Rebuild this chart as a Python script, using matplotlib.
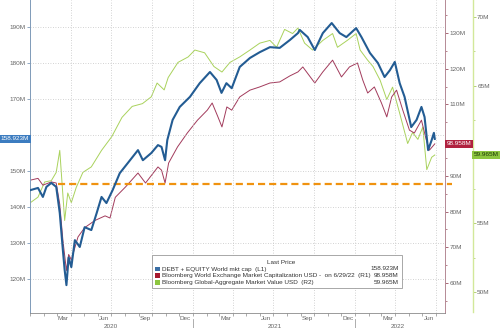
import numpy as np
import pandas as pd
import matplotlib
matplotlib.use('Agg')
import matplotlib.pyplot as plt
import matplotlib.dates as mdates
from matplotlib.patches import Rectangle
from matplotlib.ticker import MultipleLocator, FuncFormatter
import matplotlib.transforms as mtransforms

plt.rcParams['font.family'] = ['Liberation Sans', 'DejaVu Sans']

# DEBT + EQUITY World mkt cap (L1), millions
l1_dates = ['2020-01-01', '2020-01-18', '2020-01-29', '2020-02-06', '2020-02-17', '2020-02-28',
            '2020-03-03', '2020-03-07', '2020-03-14', '2020-03-18', '2020-03-22', '2020-03-27',
            '2020-04-02', '2020-04-10', '2020-04-21', '2020-05-02', '2020-05-17', '2020-05-29',
            '2020-06-09', '2020-06-20', '2020-07-04', '2020-07-20', '2020-08-07', '2020-08-30',
            '2020-09-10', '2020-09-29', '2020-10-14', '2020-10-22', '2020-10-30', '2020-11-04',
            '2020-11-16', '2020-12-02', '2020-12-25', '2021-01-16', '2021-02-08', '2021-02-23',
            '2021-03-06', '2021-03-17', '2021-03-29', '2021-04-16', '2021-05-09', '2021-05-31',
            '2021-06-23', '2021-07-15', '2021-08-07', '2021-08-25', '2021-08-29', '2021-09-16',
            '2021-10-02', '2021-10-20', '2021-11-09', '2021-11-27', '2021-12-12', '2022-01-03',
            '2022-01-15', '2022-02-03', '2022-02-21', '2022-03-08', '2022-03-20', '2022-03-31',
            '2022-04-11', '2022-04-22', '2022-05-07', '2022-05-19', '2022-05-30', '2022-06-06',
            '2022-06-14', '2022-06-22', '2022-06-27', '2022-06-29']
l1_vals = [144.7, 145.3, 142.8, 145.6, 146.7, 145.6,
           142.0, 138.3, 128.0, 122.5, 118.3, 126.0,
           123.3, 130.8, 128.9, 134.4, 133.6, 138.3,
           142.8, 141.1, 144.7, 149.4, 152.2, 155.8,
           153.0, 155.0, 157.2, 156.7, 153.0, 158.6,
           164.2, 167.8, 170.6, 174.4, 177.5, 175.3,
           171.7, 174.4, 173.0, 178.9, 181.4, 183.0,
           184.4, 184.2, 186.4, 188.3, 189.2, 187.2,
           183.6, 188.3, 191.1, 188.3, 187.2, 189.7,
           187.2, 182.8, 180.0, 176.1, 178.0, 180.3,
           174.4, 170.6, 162.2, 164.2, 167.8, 165.0,
           155.8, 158.6, 160.6, 158.923]

# Bloomberg World Exchange Market Capitalization USD (R1)
r1_dates = ['2020-01-01', '2020-01-18', '2020-01-29', '2020-02-17', '2020-02-28', '2020-03-07',
            '2020-03-14', '2020-03-22', '2020-03-27', '2020-04-02', '2020-04-17', '2020-05-02',
            '2020-05-25', '2020-06-17', '2020-06-28', '2020-07-10', '2020-08-02', '2020-08-30',
            '2020-09-16', '2020-10-14', '2020-10-22', '2020-10-30', '2020-11-07', '2020-11-27',
            '2020-12-19', '2021-01-11', '2021-02-02', '2021-02-13', '2021-02-26', '2021-03-07',
            '2021-03-18', '2021-03-29', '2021-04-16', '2021-05-09', '2021-05-31', '2021-06-23',
            '2021-07-15', '2021-08-07', '2021-08-25', '2021-09-05', '2021-10-02', '2021-10-20',
            '2021-11-11', '2021-12-01', '2021-12-19', '2022-01-06', '2022-01-18', '2022-01-29',
            '2022-02-13', '2022-03-01', '2022-03-13', '2022-03-24', '2022-04-04', '2022-04-18',
            '2022-05-03', '2022-05-14', '2022-05-30', '2022-06-10', '2022-06-17', '2022-06-29']
r1_vals = [88.8, 89.3, 87.4, 88.3, 88.0, 82.0,
           72.0, 63.5, 68.0, 66.5, 72.9, 75.5,
           77.5, 78.8, 78.2, 84.0, 86.9, 90.8,
           88.0, 92.5, 91.6, 88.0, 93.6, 98.1,
           102.0, 105.6, 108.4, 110.4, 106.5, 103.7,
           109.3, 108.4, 112.1, 114.0, 114.9, 116.0,
           116.3, 118.0, 119.1, 120.5, 116.0, 119.1,
           122.4, 117.7, 120.5, 121.6, 116.8, 113.2,
           114.9, 110.4, 106.5, 112.1, 114.0, 108.4,
           102.8, 102.0, 105.6, 100.0, 97.2, 98.958]

# Bloomberg Global-Aggregate Market Value USD (R2)
r2_dates = ['2020-01-01', '2020-01-18', '2020-02-02', '2020-02-17', '2020-02-28', '2020-03-07',
            '2020-03-10', '2020-03-18', '2020-03-25', '2020-04-02', '2020-04-13', '2020-04-28',
            '2020-05-17', '2020-06-09', '2020-07-02', '2020-07-25', '2020-08-17', '2020-09-09',
            '2020-09-29', '2020-10-12', '2020-10-28', '2020-11-06', '2020-11-28', '2020-12-21',
            '2021-01-05', '2021-01-27', '2021-02-17', '2021-03-07', '2021-03-25', '2021-04-16',
            '2021-05-09', '2021-05-31', '2021-06-23', '2021-07-08', '2021-07-26', '2021-08-13',
            '2021-08-25', '2021-09-09', '2021-09-27', '2021-10-20', '2021-11-11', '2021-11-22',
            '2021-12-14', '2022-01-03', '2022-01-12', '2022-01-28', '2022-02-10', '2022-02-26',
            '2022-03-13', '2022-03-26', '2022-04-11', '2022-04-29', '2022-05-10', '2022-05-22',
            '2022-06-02', '2022-06-11', '2022-06-22', '2022-06-29']
r2_vals = [56.5, 56.9, 58.0, 58.1, 58.7, 60.3,
           58.9, 55.2, 57.2, 56.5, 57.6, 58.7,
           59.1, 60.3, 61.3, 62.7, 63.5, 63.7,
           64.2, 65.2, 64.7, 65.6, 66.7, 67.1,
           67.6, 67.4, 66.4, 66.0, 66.7, 67.1,
           67.6, 68.1, 68.3, 67.8, 69.1, 68.8,
           69.2, 68.1, 67.6, 68.3, 68.8, 67.8,
           68.3, 68.8, 67.6, 66.9, 66.4, 65.4,
           64.0, 64.9, 63.0, 60.8, 61.6, 61.1,
           62.0, 58.9, 59.8, 59.965]

ref_level = 146.4
ref_span = ['2020-03-03', '2022-08-07']

legend_names = ['DEBT + EQUITY World mkt cap  (L1)',
                'Bloomberg World Exchange Market Capitalization USD -  on 6/29/22  (R1)',
                'Bloomberg Global-Aggregate Market Value USD  (R2)']
legend_vals = ['158.923M', '98.958M', '59.965M']

c_blue = '#235c93'
c_red = '#a23b5c'
c_green = '#a9d25c'
c_orange = '#f0920f'
tick_c = '#666666'
fs = 4.6


def make_fmt(hidden):
    # the tick under each last-value tag is left blank
    return FuncFormatter(lambda v, p: '' if round(v) == hidden else '%dM' % round(v))


fig = plt.figure(figsize=(5, 3.28), dpi=100)
ax = fig.add_axes([0.06, 0.0457, 0.83, 0.9543])
ax2 = ax.twinx()
ax3 = ax.twinx()
ax.set_zorder(3)
ax.patch.set_visible(False)
ax2.set_zorder(2)
ax3.set_zorder(1)

d1 = pd.to_datetime(l1_dates)
d2 = pd.to_datetime(r1_dates)
d3 = pd.to_datetime(r2_dates)

ax3.plot(d3, r2_vals, color=c_green, lw=0.7)
ax2.plot(d2, r1_vals, color=c_red, lw=0.7)
ax.plot(d1, l1_vals, color=c_blue, lw=1.5, zorder=5)
ax.plot(pd.to_datetime(ref_span), [ref_level, ref_level], color=c_orange, lw=1.6,
        dashes=(3.2, 1.8), clip_on=False, zorder=4)

x0 = pd.Timestamp('2019-12-31')
x1 = pd.Timestamp('2022-07-22')
for a in (ax, ax2, ax3):
    a.set_xlim(x0, x1)
ax.set_ylim(110.56, 197.5)
ax2.set_ylim(51.6, 139.24)
ax3.set_ylim(48.47, 71.24)

# grid
for v in range(120, 200, 10):
    ax.axhline(v, color='#c4c4c4', lw=0.6, ls=(0, (1, 2)), zorder=0)
for q in pd.date_range('2020-04-01', '2022-07-01', freq='QS'):
    ax.axvline(q, color='#c4c4c4', lw=0.6, ls=(0, (1, 2)), zorder=0)

# left axis
ax.yaxis.set_major_locator(MultipleLocator(10))
ax.yaxis.set_major_formatter(make_fmt(160))
ax.tick_params(axis='y', which='major', length=2, width=0.6, color='#7f9ab8',
               labelsize=fs, labelcolor=tick_c, pad=1)
ax.spines['left'].set_color('#7f9ab8')
ax.spines['left'].set_linewidth(0.7)
ax.spines['left'].set_linestyle((0, (2, 1)))
ax.spines['top'].set_visible(False)
ax.spines['right'].set_visible(False)
ax.spines['bottom'].set_color('#8a8a8a')
ax.spines['bottom'].set_linewidth(0.6)

# R1 axis
ax2.yaxis.set_major_locator(MultipleLocator(10))
ax2.yaxis.set_minor_locator(MultipleLocator(5))
ax2.yaxis.set_major_formatter(make_fmt(100))
ax2.tick_params(axis='y', which='major', length=2.5, width=0.6, color='#9a5060',
                labelsize=fs, labelcolor=tick_c, pad=1)
ax2.tick_params(axis='y', which='minor', length=1.2, width=0.5, color='#9a5060')
ax2.spines['right'].set_color('#b58a95')
ax2.spines['right'].set_linewidth(0.7)
for s in ('left', 'top', 'bottom'):
    ax2.spines[s].set_visible(False)

# R2 axis
ax3.spines['right'].set_position(('axes', 1.0675))
ax3.spines['right'].set_color('#d2e89a')
ax3.spines['right'].set_linewidth(1.0)
ax3.spines['right'].set_bounds(48.55, 71.24)
for s in ('left', 'top', 'bottom'):
    ax3.spines[s].set_visible(False)
ax3.yaxis.set_major_locator(MultipleLocator(5))
ax3.yaxis.set_minor_locator(MultipleLocator(2.5))
ax3.yaxis.set_major_formatter(make_fmt(60))
ax3.tick_params(axis='y', which='major', length=2, width=0.6, color='#a8c860',
                labelsize=fs, labelcolor=tick_c, pad=1)
ax3.tick_params(axis='y', which='minor', length=1.2, width=0.5, color='#a8c860')

# x axis: months
ax.xaxis.set_minor_locator(mdates.MonthLocator())
mid = pd.to_datetime(['2020-03-15', '2020-06-15', '2020-09-15', '2020-12-15',
                      '2021-03-15', '2021-06-15', '2021-09-15', '2021-12-15',
                      '2022-03-15', '2022-06-15'])
ax.set_xticks(mid)
ax.set_xticklabels(['Mar', 'Jun', 'Sep', 'Dec'] * 2 + ['Mar', 'Jun'])
ax.tick_params(axis='x', which='major', length=0, labelsize=fs, labelcolor=tick_c, pad=2)
ax.tick_params(axis='x', which='minor', length=2, width=0.5, color='#8a8a8a')
ax2.tick_params(axis='x', which='both', length=0, labelbottom=False)
ax3.tick_params(axis='x', which='both', length=0, labelbottom=False)

trans = mtransforms.blended_transform_factory(ax.transData, ax.transAxes)
for lab, pos in [('2020', '2020-06-30'), ('2021', '2021-07-04'), ('2022', '2022-04-07')]:
    ax.text(pd.Timestamp(pos), -0.036, lab, transform=trans, ha='center', va='top',
            fontsize=fs, color=tick_c)
for sep in ['2021-01-01', '2022-01-01']:
    ax.plot([pd.Timestamp(sep)] * 2, [-0.02, -0.05], transform=trans, color='#a0a0a0',
            lw=0.6, clip_on=False)

# last value tags
ax.text(-0.002, l1_vals[-1], legend_vals[0], transform=mtransforms.blended_transform_factory(
    ax.transAxes, ax.transData), ha='right', va='center', fontsize=fs, color='white',
    bbox=dict(boxstyle='square,pad=0.25', fc='#3c7cc0', ec='none'), zorder=10)
ax2.text(1.004, r1_vals[-1], legend_vals[1], transform=mtransforms.blended_transform_factory(
    ax2.transAxes, ax2.transData), ha='left', va='center', fontsize=fs, color='white',
    bbox=dict(boxstyle='square,pad=0.25', fc='#b0213f', ec='none'), zorder=10)
ax3.text(1.07, r2_vals[-1], legend_vals[2], transform=mtransforms.blended_transform_factory(
    ax3.transAxes, ax3.transData), ha='left', va='center', fontsize=fs, color='#1d3a06',
    bbox=dict(boxstyle='square,pad=0.25', fc='#8dc63f', ec='none'), zorder=10)

# legend box
fig.add_artist(Rectangle((0.304, 0.122), 0.5, 0.1006, transform=fig.transFigure,
                         fc='white', ec='#9a9a9a', lw=0.6, zorder=10))
fig.text(0.562, 1 - 262 / 328, 'Last Price', ha='center', va='center', fontsize=4.6,
         color='#333333', zorder=11)
sq_cols = ['#3a6ea5', '#a6192e', '#8dc63f']
rows_y = [1 - 269 / 328, 1 - 275.7 / 328, 1 - 282.3 / 328]
for name, val, col, yy in zip(legend_names, legend_vals, sq_cols, rows_y):
    fig.add_artist(Rectangle((0.310, yy - 0.0075), 0.009, 0.015, transform=fig.transFigure,
                             fc=col, ec='none', zorder=11))
    fig.text(0.324, yy, name, ha='left', va='center', fontsize=4.6, color='#333333', zorder=11)
    fig.text(0.797, yy, val, ha='right', va='center', fontsize=4.6, color='#333333', zorder=11)

fig.savefig('out.png', dpi=100)
